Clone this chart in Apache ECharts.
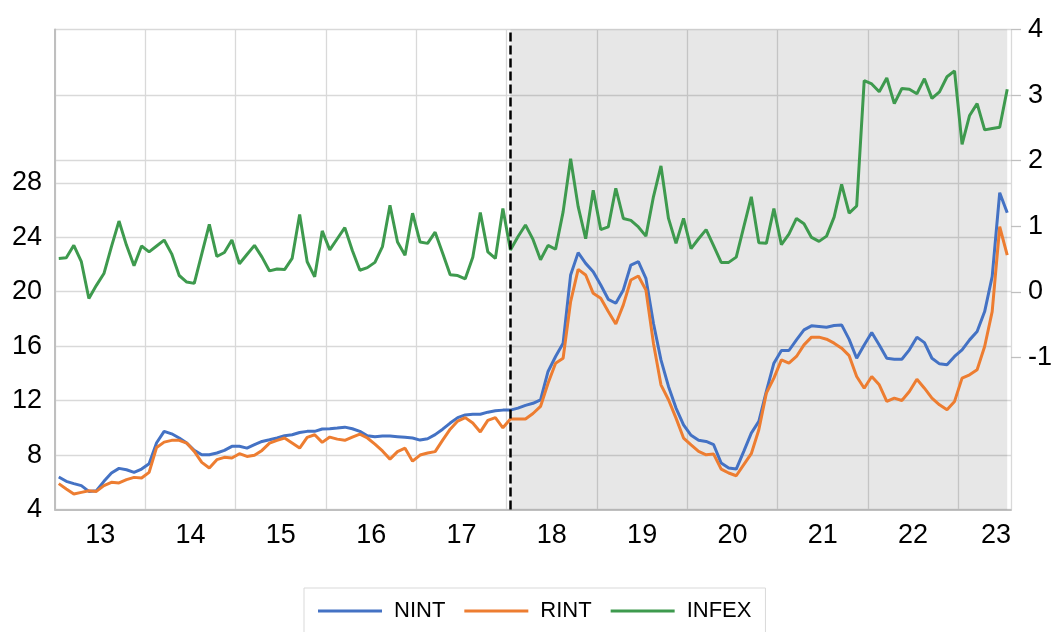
<!DOCTYPE html>
<html>
<head>
<meta charset="utf-8">
<script src="https://cdn.jsdelivr.net/npm/echarts@6/dist/echarts.min.js"></script>
<style>
  html, body { margin: 0; padding: 0; background: #fff; }
  #chart { width: 1055px; height: 632px; }
</style>
</head>
<body>
<div id="chart"></div>
<script>
// monthly data, Jan 2013 .. Jul 2023
var years = ['13', '14', '15', '16', '17', '18', '19', '20', '21', '22', '23'];

var nint = [
  6.39, 6.07, 5.90, 5.75, 5.33, 5.38, 6.07, 6.68, 7.02, 6.92, 6.73, 6.97,
  7.36, 8.90, 9.74, 9.56, 9.25, 8.88, 8.34, 8.02, 8.02, 8.15, 8.34, 8.64,
  8.64, 8.51, 8.76, 9.00, 9.12, 9.25, 9.42, 9.49, 9.66, 9.74, 9.74, 9.91,
  9.93, 9.98, 10.05, 9.93, 9.74, 9.42, 9.35, 9.40, 9.40, 9.35, 9.30, 9.25,
  9.10, 9.20, 9.50, 9.90, 10.35, 10.75, 10.95, 11.00, 11.00, 11.15, 11.25, 11.30,
  11.30, 11.45, 11.65, 11.80, 12.06, 14.14, 15.24, 16.22, 21.23, 22.87, 22.08, 21.47,
  20.49, 19.44, 19.15, 20.13, 21.96, 22.20, 20.98, 17.68, 14.99, 13.04, 11.45, 10.22,
  9.45, 9.08, 9.00, 8.76, 7.41, 7.05, 6.97, 8.27, 9.61, 10.47, 12.67, 14.75,
  15.68, 15.68, 16.46, 17.19, 17.49, 17.44, 17.39, 17.51, 17.56, 16.50, 15.11, 16.09,
  17.00, 16.09, 15.11, 15.04, 15.04, 15.73, 16.66, 16.26, 15.11, 14.70, 14.63, 15.24,
  15.73, 16.46, 17.07, 18.54, 21.11, 27.27, 25.80
];

var rint = [
  5.90, 5.51, 5.14, 5.26, 5.38, 5.33, 5.75, 6.00, 5.95, 6.19, 6.36, 6.31,
  6.73, 8.56, 8.95, 9.08, 9.08, 8.88, 8.27, 7.46, 7.05, 7.66, 7.83, 7.78,
  8.10, 7.90, 7.98, 8.34, 8.88, 9.08, 9.25, 8.88, 8.51, 9.30, 9.49, 8.93,
  9.32, 9.17, 9.08, 9.32, 9.54, 9.25, 8.80, 8.30, 7.70, 8.25, 8.50, 7.55,
  8.00, 8.15, 8.25, 9.10, 9.90, 10.50, 10.75, 10.35, 9.70, 10.55, 10.75, 10.00,
  10.65, 10.65, 10.65, 11.05, 11.57, 13.28, 14.75, 15.11, 19.27, 21.64, 21.23, 19.88,
  19.52, 18.54, 17.63, 19.03, 20.86, 21.15, 20.13, 16.22, 13.16, 12.06, 10.71, 9.25,
  8.75, 8.27, 8.02, 8.07, 6.97, 6.68, 6.48, 7.29, 8.10, 9.86, 12.55, 13.65,
  14.99, 14.75, 15.24, 16.09, 16.66, 16.66, 16.51, 16.22, 15.85, 15.30, 13.77, 12.91,
  13.77, 13.16, 11.94, 12.18, 12.01, 12.67, 13.57, 12.91, 12.18, 11.69, 11.33, 11.94,
  13.65, 13.89, 14.26, 15.97, 18.54, 24.77, 22.69
];

var infex = [
  0.51, 0.52, 0.71, 0.46, -0.10, 0.10, 0.28, 0.69, 1.08, 0.71, 0.40, 0.70,
  0.61, 0.70, 0.79, 0.58, 0.25, 0.15, 0.13, 0.58, 1.03, 0.54, 0.60, 0.79,
  0.43, 0.57, 0.71, 0.53, 0.32, 0.35, 0.34, 0.51, 1.18, 0.46, 0.23, 0.93,
  0.64, 0.81, 0.98, 0.63, 0.33, 0.37, 0.45, 0.69, 1.32, 0.76, 0.56, 1.20,
  0.76, 0.74, 0.91, 0.59, 0.26, 0.25, 0.20, 0.53, 1.21, 0.61, 0.51, 1.27,
  0.64, 0.84, 1.02, 0.80, 0.49, 0.71, 0.65, 1.22, 2.03, 1.30, 0.81, 1.55,
  0.95, 0.99, 1.58, 1.12, 1.09, 0.99, 0.85, 1.45, 1.92, 1.12, 0.74, 1.12,
  0.66, 0.81, 0.95, 0.70, 0.45, 0.45, 0.53, 0.99, 1.45, 0.75, 0.74, 1.27,
  0.72, 0.88, 1.12, 1.04, 0.83, 0.77, 0.85, 1.14, 1.64, 1.20, 1.31, 3.22,
  3.17, 3.05, 3.26, 2.87, 3.10, 3.09, 3.02, 3.25, 2.95, 3.05, 3.28, 3.37,
  2.25, 2.69, 2.87, 2.47, 2.49, 2.51, 3.09
];

// right axis values that get a label and a tick
var rightTicks = [-1, 0, 1, 2, 3, 4];

// month labels like '2013-01'
var months = [];
years.forEach(function (y) {
  for (var m = 1; m <= 12; m++) {
    if (months.length < nint.length) months.push('20' + y + '-' + (m < 10 ? '0' + m : m));
  }
});

var shadeStart = '2018-01';
var shadeEnd = months[months.length - 1];

var font = 'Liberation Sans, Arial, sans-serif';
var grid = '#D9D9D9';
var none = 'rgba(0,0,0,0)';

var myChart = echarts.init(document.getElementById('chart'), null, { renderer: 'canvas' });

var option = {
  animation: false,
  textStyle: { fontFamily: font },
  grid: { left: 55, right: 42, top: 29.5, bottom: 122.5, containLabel: false },
  legend: {
    data: ['NINT', 'RINT', 'INFEX'],
    left: 304,
    top: 588,
    padding: [12, 14, 12, 14],
    borderColor: '#D9D9D9',
    borderWidth: 1,
    icon: 'rect',
    itemWidth: 64,
    itemHeight: 3,
    itemGap: 19,
    textStyle: { fontSize: 22, color: '#000', fontFamily: font, padding: [0, 0, 0, 7] }
  },
  xAxis: {
    type: 'category',
    data: months,
    boundaryGap: true,
    axisLine: { onZero: false, lineStyle: { color: '#BFBFBF', width: 2 } },
    axisTick: { show: false },
    axisLabel: {
      interval: function (idx) { return idx % 12 === 5 || idx === 124; },
      formatter: function (v) { return v.slice(2, 4); },
      fontSize: 27,
      color: '#000',
      margin: 13,
      padding: [0, 0, 0, 7.5]
    },
    splitLine: {
      show: true,
      interval: function (idx) { return idx % 12 === 0; },
      lineStyle: { color: grid, width: 1.3 }
    }
  },
  yAxis: [
    {
      type: 'value',
      position: 'left',
      min: 4,
      max: 39.26,
      interval: 4,
      axisLine: { show: true, onZero: false, lineStyle: { color: '#BFBFBF', width: 2 } },
      axisTick: { show: false },
      axisLabel: {
        fontSize: 27,
        color: '#000',
        margin: 13,
        padding: [0, 0, 11, 0],
        formatter: function (v) { return v <= 28 ? String(v) : ''; }
      },
      splitLine: {
        lineStyle: { color: [grid, grid, grid, grid, grid, grid, grid, none, none, none], width: 1.3 }
      }
    },
    {
      type: 'value',
      position: 'right',
      min: -3.317,
      max: 4,
      splitNumber: 7,
      axisLine: { show: false, onZero: false },
      axisTick: { show: true, length: 10, customValues: rightTicks, lineStyle: { color: '#BFBFBF', width: 1.3 } },
      axisLabel: {
        fontSize: 27,
        color: '#000',
        margin: 17,
        padding: [0, 0, 11, 0],
        showMinLabel: false,
        formatter: function (v) { return (v >= -1 && Math.abs(v - Math.round(v)) < 1e-6) ? String(Math.round(v)) : ''; }
      },
      splitLine: {
        lineStyle: { color: [none, none, none, grid, grid, grid, grid, grid, grid], width: 1.3 }
      }
    }
  ],
  series: [
    {
      name: 'shade',
      type: 'line',
      data: [],
      silent: true,
      markArea: {
        silent: true,
        itemStyle: { color: 'rgba(0,0,0,0.095)' },
        data: [[{ xAxis: shadeStart }, { xAxis: shadeEnd }]]
      },
      markLine: {
        silent: true,
        symbol: 'none',
        label: { show: false },
        lineStyle: { color: '#000', type: [9, 4], width: 2.5 },
        data: [{ xAxis: shadeStart }]
      }
    },
    {
      name: 'NINT', type: 'line', data: nint, yAxisIndex: 0,
      showSymbol: false, symbol: 'none',
      lineStyle: { color: '#4472C4', width: 3 }, itemStyle: { color: '#4472C4' }
    },
    {
      name: 'RINT', type: 'line', data: rint, yAxisIndex: 0,
      showSymbol: false, symbol: 'none',
      lineStyle: { color: '#ED7D31', width: 3 }, itemStyle: { color: '#ED7D31' }
    },
    {
      name: 'INFEX', type: 'line', data: infex, yAxisIndex: 1,
      showSymbol: false, symbol: 'none',
      lineStyle: { color: '#3E9A4E', width: 3 }, itemStyle: { color: '#3E9A4E' }
    }
  ]
};

myChart.setOption(option);
</script>
</body>
</html>
